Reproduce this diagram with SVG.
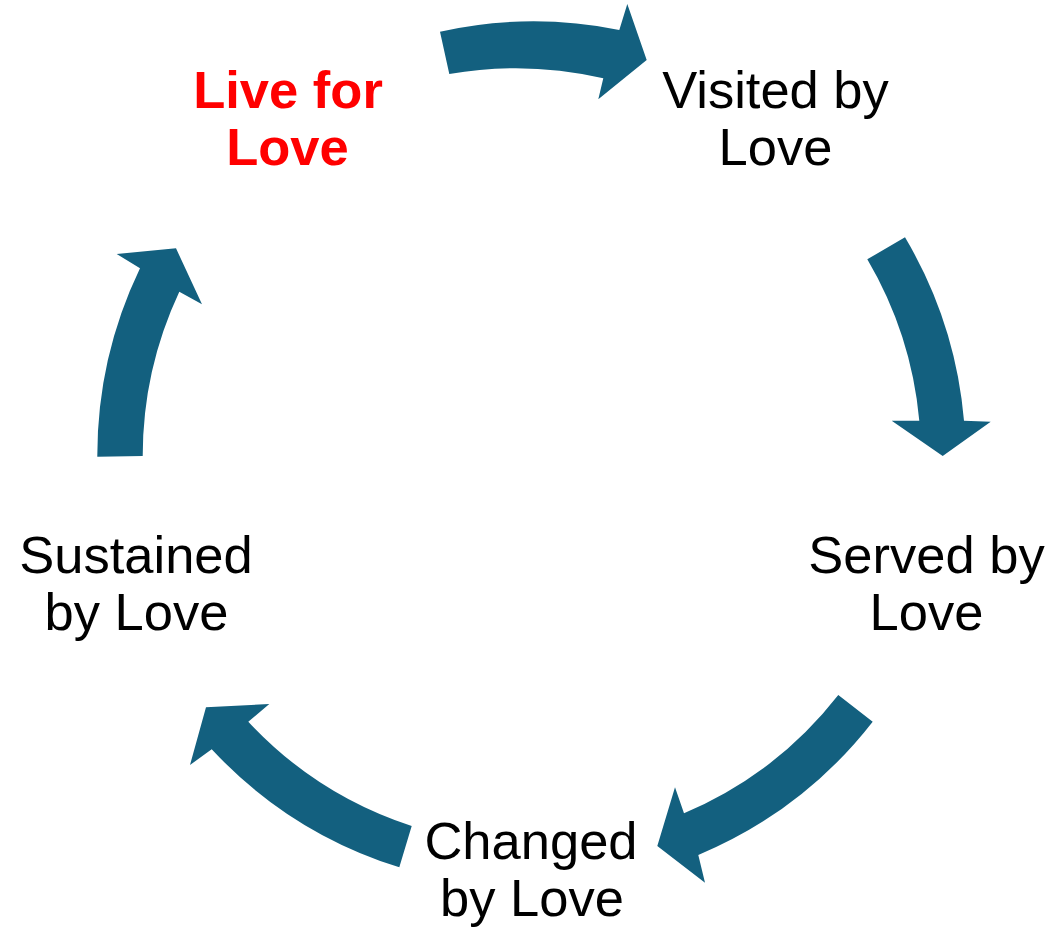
<svg xmlns="http://www.w3.org/2000/svg" width="1063" height="930" viewBox="0 0 1063 930">
<style>
.arr{fill:#13607F;stroke:none}
.lbl{font-family:"Liberation Sans",Arial,sans-serif;font-size:52.5px;fill:#000;text-anchor:middle}
.hl{fill:#FF0000;font-weight:bold}
</style>
<rect width="1063" height="930" fill="#fff"/>
<g id="connectors">
<path class="arr" d="M440,31.7 A433,433 0 0 1 619.3,30 L627.3,4 L646.7,60 L598.3,99.3 L603.3,78.3 A388,388 0 0 0 449.3,74 Z"/>
<path class="arr" d="M905,237.3 A433,433 0 0 1 964,420.7 L990.7,421.7 L942.7,456 L891.7,420.7 L919.3,420.7 A388,388 0 0 0 867.3,259.3 Z"/>
<path class="arr" d="M872.7,721.7 A433,433 0 0 1 698.3,855 L705,882.7 L657.3,846 L675,787.3 L684,813.3 A388,388 0 0 0 838.3,695 Z"/>
<path class="arr" d="M399.3,867.3 A433,433 0 0 1 211.7,749.3 L190,765 L206,707.3 L269.3,704 L248.3,721.7 A388,388 0 0 0 411.7,826 Z"/>
<path class="arr" d="M97.3,456.7 A433,433 0 0 1 140,268.3 L116.7,254 L176,248.3 L202,304.3 L179.3,291.7 A388,388 0 0 0 142.7,456 Z"/>
</g>
<g id="node-live">
<text class="lbl hl" x="288" y="108">Live for</text>
<text class="lbl hl" x="287.5" y="165">Love</text>
</g>
<g id="node-visited">
<text class="lbl" x="775.5" y="108">Visited by</text>
<text class="lbl" x="775.5" y="165">Love</text>
</g>
<g id="node-served">
<text class="lbl" x="926.5" y="573">Served by</text>
<text class="lbl" x="926.5" y="630">Love</text>
</g>
<g id="node-changed">
<text class="lbl" x="531" y="859">Changed</text>
<text class="lbl" x="532" y="916">by Love</text>
</g>
<g id="node-sustained">
<text class="lbl" x="136" y="573">Sustained</text>
<text class="lbl" x="136.5" y="630">by Love</text>
</g>
</svg>
